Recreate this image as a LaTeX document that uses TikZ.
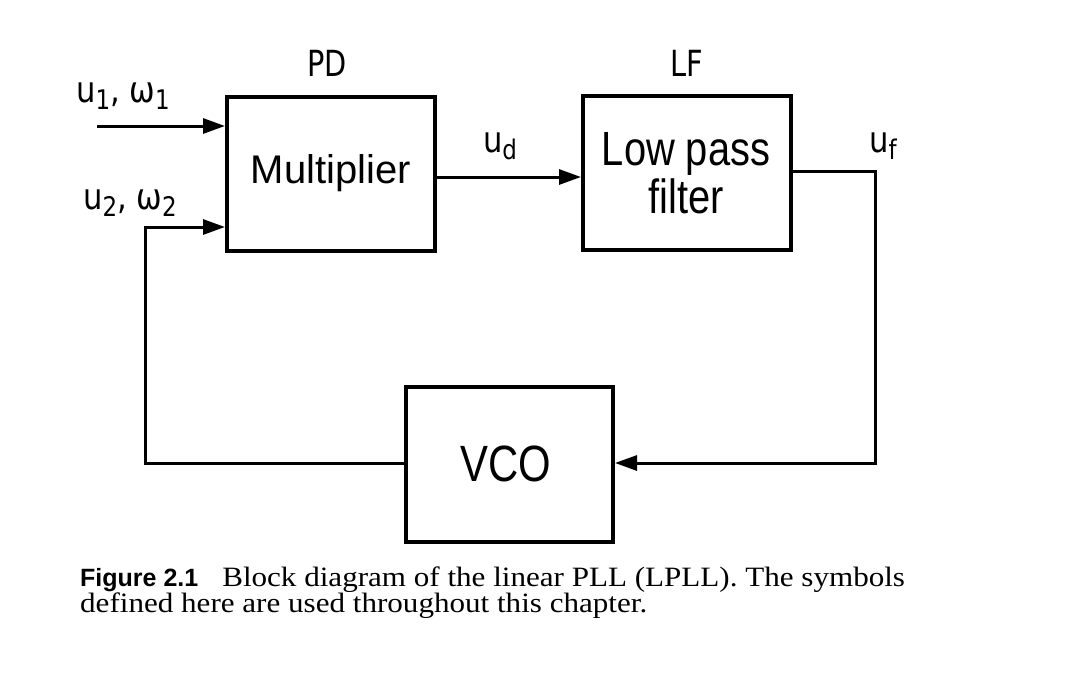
\documentclass[tikz,border=0pt]{standalone}
\usepackage{fontspec}
\setmainfont{Liberation Serif}
\setsansfont{Liberation Sans}
\newfontfamily\lblfont{DejaVu Sans}
\usetikzlibrary{arrows.meta}
\newcommand{\sig}[2]{#1\raisebox{-7pt}{\fontsize{27}{27}\selectfont #2}}
\tikzset{
  block/.style={draw, line width=4pt, minimum width=208pt, minimum height=154pt, inner sep=0pt,
    font=\sffamily\fontsize{40}{42}\selectfont, align=center},
  conn/.style={line width=3pt},
  tipped/.style={-{Triangle[length=22pt,width=15pt]}},
  lbl/.style={font=\lblfont\fontsize{36}{38}\selectfont, inner sep=0pt},
  captext/.style={font=\fontsize{28}{28}\selectfont, anchor=base west, inner sep=0pt}
}
\begin{document}
\begin{tikzpicture}[x=1pt,y=-1pt]
\useasboundingbox (0,0) rectangle (1080,681);
% blocks
\node[block] (pd) at (331,173.5) {Multiplier};
\node[block] (lf) at (687,172.5) {};
\node[block, minimum width=207pt, minimum height=155pt] (vco) at (509.5,464.5) {};
% block texts
\node[font=\sffamily\fontsize{48}{48}\selectfont, anchor=base, inner sep=0pt] (lpa) at (686,165) {\scalebox{0.83}[1]{Low pass}};
\node[font=\sffamily\fontsize{48}{48}\selectfont, anchor=base, inner sep=0pt] (lpb) at (686,213) {\scalebox{0.83}[1]{filter}};
\node[font=\sffamily\fontsize{51}{51}\selectfont, anchor=base, inner sep=0pt] (vcot) at (506,481) {\scalebox{0.82}[1]{VCO}};
% block titles
\node[lbl] (pdt) at (327,63) {\scalebox{0.8}[1]{PD}};
\node[lbl] (lft) at (687,63) {\scalebox{0.8}[1]{LF}};
% coordinates
\coordinate (in1) at (97,126);
\coordinate (fbl) at (145,463);
\coordinate (fbr) at (875,463);
\coordinate (ofs) at (875,171);
% connectors
\draw[conn,tipped] (in1) -- (pd.west |- in1);
\draw[conn,tipped] (pd.east |- 0,177) -- (lf.west |- 0,177);
\draw[conn,tipped] (lf.east |- ofs) -- (ofs) -- (fbr) -- (vco.east |- fbr);
\draw[conn,tipped] (vco.west |- fbl) -- (fbl) -- (fbl |- 0,227) -- (pd.west |- 0,227);
% signal labels
\node[lbl] (l1) at (123,96) {\scalebox{0.85}[1]{\sig{u}{1}, \sig{ω}{1}}};
\node[lbl] (l2) at (130,203) {\scalebox{0.85}[1]{\sig{u}{2}, \sig{ω}{2}}};
\node[lbl] (ud) at (500,146) {\scalebox{0.85}[1]{\sig{u}{d}}};
\node[lbl] (uf) at (883,146) {\scalebox{0.85}[1]{\sig{u}{f}}};
% caption
\node[captext] (cap1) at (80,586) {{\sffamily\bfseries\fontsize{25}{25}\selectfont Figure 2.1}\hspace{24pt}\scalebox{1.11}[1]{Block diagram of the linear PLL (LPLL). The symbols}};
\node[captext] (cap2) at (80,612) {\scalebox{1.11}[1]{defined here are used throughout this chapter.}};
\end{tikzpicture}
\end{document}
